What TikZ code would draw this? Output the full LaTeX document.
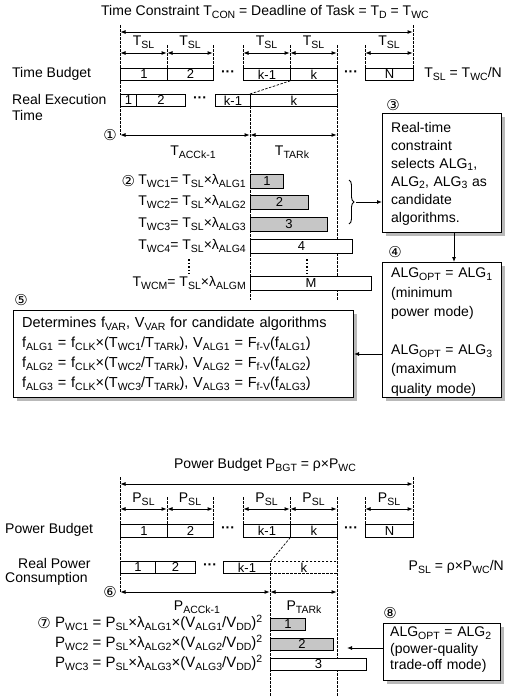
\documentclass[tikz,border=0pt]{standalone}
\usepackage{fontspec}
\setmainfont{Liberation Sans}
\newfontfamily\dejavu{DejaVu Sans}
\usetikzlibrary{arrows.meta,decorations.pathreplacing,shadows}
\newcommand\sbs[1]{\raisebox{-0.35ex}{\fontsize{10.5}{11}\selectfont #1}}
\newcommand\circn[1]{{\dejavu\fontsize{15}{15}\selectfont #1}}
\newcommand\hdots{{\bfseries ···}}
\begin{document}
\begin{tikzpicture}[x=1pt,y=-1pt,
  every node/.style={font=\fontsize{14}{16}\selectfont, inner sep=0pt},
  seg/.style={draw, line width=0.9pt, fill=white, anchor=north west, font=\fontsize{13}{13}\selectfont},
  grayseg/.style={seg, fill=gray!45},
  dseg/.style={seg, dash pattern=on 2.5pt off 1.5pt, line width=0.7pt},
  dashv/.style={dash pattern=on 2.5pt off 1.5pt, line width=0.7pt},
  dimarr/.style={{Latex[length=5.5pt,width=4pt]}-{Latex[length=5.5pt,width=4pt]}, line width=1pt},
  arr/.style={-{Latex[length=5pt,width=4pt]}, line width=0.9pt},
  panel/.style={draw, line width=1pt, fill=white, anchor=north west,
    drop shadow={shadow xshift=3.5pt, shadow yshift=-3.5pt, fill=gray!55, opacity=1}},
  ptext/.style={align=left, anchor=north west, text width=#1},
  eqn/.style={anchor=east, font=\fontsize{15}{16}\selectfont},
]
\useasboundingbox (0,0) rectangle (508,696);

% ================= TOP: time =================
\node (ttitle) at (265,12) {Time Constraint T\sbs{CON} = Deadline of Task = T\sbs{D} = T\sbs{WC}};

% dashed guides
\draw[dashv] (120,25) -- (120,135);
\draw[dashv] (413,25) -- (413,68);
\foreach \xx in {167,213,243,290,365} \draw[dashv] (\xx,45) -- (\xx,68);
\draw[dashv] (337,45) -- (337,300);
\draw[dashv] (250,106) -- (250,300);

\draw[dimarr] (120,32) -- (413,32);
\foreach \a/\b in {120/167,167/213,243/290,290/337,365/413}{
  \draw[dimarr] (\a,53) -- (\b,53);
  \node at ({(\a+\b)/2},42) {T\sbs{SL}};
}

\node[anchor=west] (tblabel) at (12,74) {Time Budget};
\node[seg, minimum width=47pt, minimum height=12pt] (tb1) at (120,68) {1};
\node[seg, minimum width=46pt, minimum height=12pt] (tb2) at (167,68) {2};
\node (tdots1) at (228,74) {\hdots};
\node[seg, minimum width=47pt, minimum height=12pt] (tbk1) at (243,68) {k-1};
\node[seg, minimum width=47pt, minimum height=12pt] (tbk) at (290,68) {k};
\node (tdots2) at (351,74) {\hdots};
\node[seg, minimum width=48pt, minimum height=12pt] (tbN) at (365,68) {N};
\node[anchor=east] (tsl) at (502,74) {T\sbs{SL} = T\sbs{WC}/N};

\node[anchor=west] (relabel1) at (12,99) {Real Execution};
\node[anchor=west] (relabel2) at (12,115) {Time};
\node[seg, minimum width=16pt, minimum height=12pt] (re1) at (120,94) {1};
\node[seg, minimum width=49pt, minimum height=12pt] (re2) at (136,94) {2};
\node (rdots) at (200,100) {\hdots};
\node[seg, minimum width=35pt, minimum height=12pt] (rek1) at (215,94) {k-1};
\node[seg, minimum width=87pt, minimum height=12pt] (rek) at (250,94) {k};
\draw[dashv] (rek.north west) -- (tbk.south west);

\node (c1) at (110,135) {\circn{①}};
\draw[dimarr] (120,135) -- (250,135);
\draw[dimarr] (250,135) -- (337,135);
\node (tacc) at (193,152) {T\sbs{ACCk-1}};
\node (ttar) at (292,152) {T\sbs{TARk}};

% equations (2)
\node[anchor=east] (e1) at (246,181) {T\sbs{WC1}= T\sbs{SL}×λ\sbs{ALG1}};
\node[anchor=east] (c2) at ([xshift=-3pt]e1.west) {\circn{②}};
\node[anchor=east] (e2) at (246,202) {T\sbs{WC2}= T\sbs{SL}×λ\sbs{ALG2}};
\node[anchor=east] (e3) at (246,224) {T\sbs{WC3}= T\sbs{SL}×λ\sbs{ALG3}};
\node[anchor=east] (e4) at (246,246) {T\sbs{WC4}= T\sbs{SL}×λ\sbs{ALG4}};
\node[anchor=east] (eM) at (246,283) {T\sbs{WCM}= T\sbs{SL}×λ\sbs{ALGM}};
\draw[line width=1.2pt, dash pattern=on 1.5pt off 2pt] (189,259) -- (189,274);
\draw[line width=1.2pt, dash pattern=on 1.5pt off 2pt] (307,259) -- (307,274);

\node[grayseg, minimum width=33pt, minimum height=14pt] (bar1) at (250,174) {1};
\node[grayseg, minimum width=58pt, minimum height=14pt] (bar2) at (250,195) {2};
\node[grayseg, minimum width=77pt, minimum height=14pt] (bar3) at (250,217) {3};
\node[seg, minimum width=102pt, minimum height=14pt] (bar4) at (250,239) {4};
\node[seg, minimum width=121pt, minimum height=14pt] (barM) at (250,276) {M};

% brace and box 3
\draw[line width=0.9pt, decorate, decoration={brace, amplitude=5pt}] (349,180) -- (349,224);
\coordinate (brtip) at (356,202);
\node (c3) at (393,105) {\circn{③}};
\node[panel, minimum width=119pt, minimum height=119pt] (b3) at (382,113) {};
\node[ptext=110pt, font=\fontsize{14}{18}\selectfont] (t3) at (391,122) {Real-time\\constraint\\selects ALG\sbs{1},\\ALG\sbs{2}, ALG\sbs{3} as\\candidate\\algorithms.};
\draw[arr] (brtip) -- (b3.west |- brtip);

% box 4
\node (c4) at (395,252) {\circn{④}};
\node[panel, minimum width=119pt, minimum height=135pt] (b4) at (382,262) {};
\node[ptext=110pt, font=\fontsize{14}{19.2}\selectfont] (t4) at (391,268) {ALG\sbs{OPT} = ALG\sbs{1}\\(minimum\\power mode)\\[19.2pt]ALG\sbs{OPT} = ALG\sbs{3}\\(maximum\\quality mode)};
\coordinate (x34) at (454,0);
\draw[arr] (b3.south -| x34) -- (b4.north -| x34);

% box 5
\node (c5) at (21,300) {\circn{⑤}};
\node[panel, minimum width=340pt, minimum height=87pt] (b5) at (13,310) {};
\node[ptext=328pt, font=\fontsize{14.5}{20}\selectfont] (t5) at (22,317) {Determines f\sbs{VAR}, V\sbs{VAR} for candidate algorithms\\
f\sbs{ALG1} = f\sbs{CLK}×(T\sbs{WC1}/T\sbs{TARk}), V\sbs{ALG1} = F\sbs{f-V}(f\sbs{ALG1})\\
f\sbs{ALG2} = f\sbs{CLK}×(T\sbs{WC2}/T\sbs{TARk}), V\sbs{ALG2} = F\sbs{f-V}(f\sbs{ALG2})\\
f\sbs{ALG3} = f\sbs{CLK}×(T\sbs{WC3}/T\sbs{TARk}), V\sbs{ALG3} = F\sbs{f-V}(f\sbs{ALG3})};
\coordinate (y45) at (0,354);
\draw[arr] (b4.west |- y45) -- (b5.east |- y45);

% ================= BOTTOM: power =================
\node (ptitle) at (265,465) {Power Budget P\sbs{BGT} = ρ×P\sbs{WC}};
\draw[dashv] (120,477) -- (120,592);
\draw[dashv] (413,477) -- (413,524);
\foreach \xx in {167,213,243,290,365} \draw[dashv] (\xx,497) -- (\xx,524);
\draw[dashv] (337,497) -- (337,696);
\draw[dashv] (270,573) -- (270,696);

\draw[dimarr] (120,484) -- (413,484);
\foreach \a/\b in {120/167,167/213,243/290,290/337,365/413}{
  \draw[dimarr] (\a,509) -- (\b,509);
  \node at ({(\a+\b)/2},499) {P\sbs{SL}};
}

\node[anchor=west] (pblabel) at (5,530) {Power Budget};
\node[seg, minimum width=47pt, minimum height=13pt] (pb1) at (120,524) {1};
\node[seg, minimum width=46pt, minimum height=13pt] (pb2) at (167,524) {2};
\node (pdots1) at (228,530) {\hdots};
\node[seg, minimum width=47pt, minimum height=13pt] (pbk1) at (243,524) {k-1};
\node[seg, minimum width=47pt, minimum height=13pt] (pbk) at (290,524) {k};
\node (pdots2) at (351,530) {\hdots};
\node[seg, minimum width=48pt, minimum height=13pt] (pbN) at (365,524) {N};
\node[anchor=east] (psl) at (504,567) {P\sbs{SL} = ρ×P\sbs{WC}/N};

\node[anchor=west] (rplabel1) at (18,563) {Real Power};
\node[anchor=west] (rplabel2) at (5,579) {Consumption};
\node[seg, minimum width=35pt, minimum height=12pt] (pr1) at (120,561) {1};
\node[seg, minimum width=40pt, minimum height=12pt] (pr2) at (155,561) {2};
\node (prdots) at (210,567) {\hdots};
\node[seg, minimum width=47pt, minimum height=12pt] (prk1) at (223,561) {k-1};
\node[dseg, minimum width=67pt, minimum height=12pt] (prk) at (270,561) {k};
\draw[dashv] (prk1.north east) -- (pbk.south west);

\node (c6) at (110,592) {\circn{⑥}};
\draw[dimarr] (120,592) -- (270,592);
\draw[dimarr] (270,592) -- (337,592);
\node (pacc) at (197,607) {P\sbs{ACCk-1}};
\node (ptar) at (304,607) {P\sbs{TARk}};

\node[eqn] (pe1) at (263,623) {P\sbs{WC1} = P\sbs{SL}×λ\sbs{ALG1}×(V\sbs{ALG1}/V\sbs{DD})\textsuperscript{2}};
\node[anchor=east] (c7) at ([xshift=-4pt]pe1.west) {\circn{⑦}};
\node[eqn] (pe2) at (263,643) {P\sbs{WC2} = P\sbs{SL}×λ\sbs{ALG2}×(V\sbs{ALG2}/V\sbs{DD})\textsuperscript{2}};
\node[eqn] (pe3) at (263,663) {P\sbs{WC3} = P\sbs{SL}×λ\sbs{ALG3}×(V\sbs{ALG3}/V\sbs{DD})\textsuperscript{2}};

\node[grayseg, minimum width=35pt, minimum height=12pt] (pbar1) at (270,618) {1};
\node[grayseg, minimum width=63pt, minimum height=12pt] (pbar2) at (270,638) {2};
\node[seg, minimum width=96pt, minimum height=12pt] (pbar3) at (270,658) {3};

\node (c8) at (390,613) {\circn{⑧}};
\node[panel, minimum width=117pt, minimum height=57pt] (b8) at (383,623) {};
\node[ptext=110pt, font=\fontsize{14}{16.5}\selectfont] (t8) at (390,627) {ALG\sbs{OPT} = ALG\sbs{2}\\(power-quality\\trade-off mode)};
\coordinate (a8end) at (347,648);
\draw[arr] (b8.west |- a8end) -- (a8end);
\end{tikzpicture}
\end{document}
